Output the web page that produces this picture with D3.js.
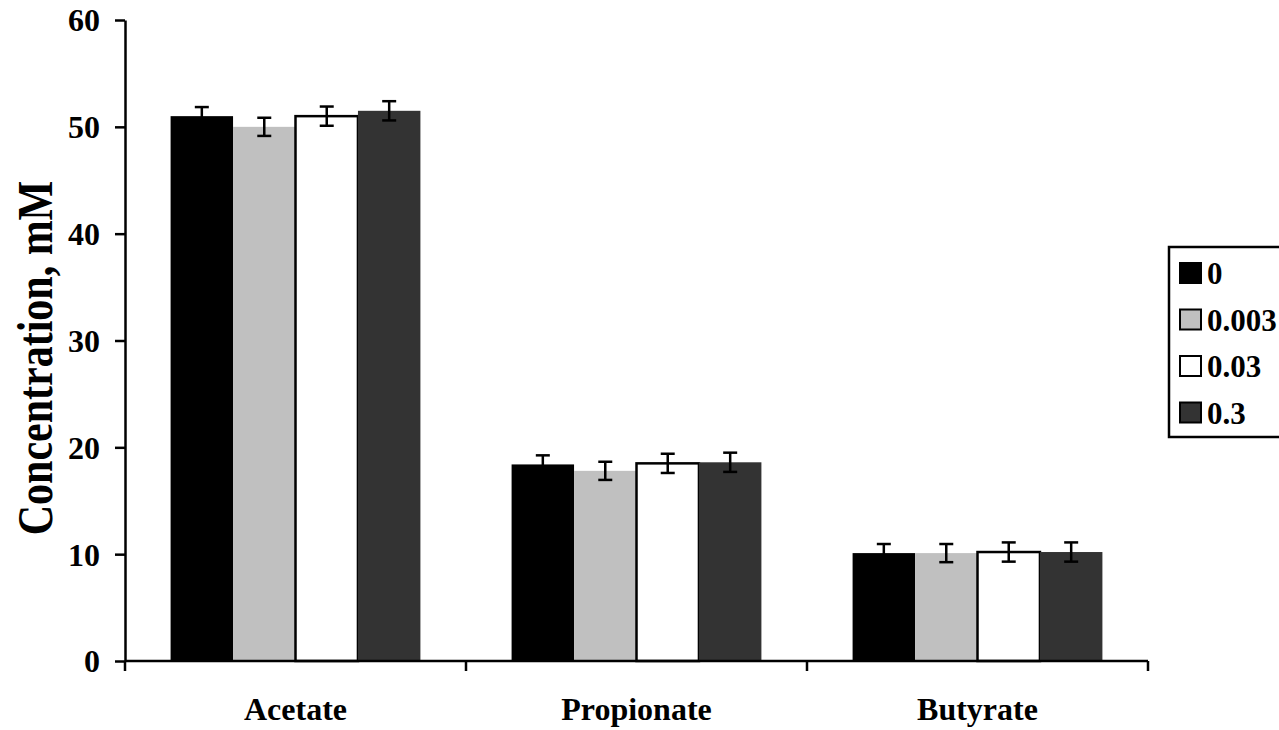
<!DOCTYPE html>
<html><head><meta charset="utf-8">
<script src="https://cdn.jsdelivr.net/npm/d3@7"></script>
<style>body{margin:0;background:#fff}svg{display:block}text{font-family:"Liberation Serif","Times New Roman",serif;font-weight:bold}</style>
</head><body><svg id="c" width="1279" height="730"></svg>
<script>
const categories = ["Acetate","Propionate","Butyrate"];
const seriesNames = ["0","0.003","0.03","0.3"];
const seriesColors = ["#000000","#c0c0c0","#ffffff","#333333"];
const values = [
  [51.0, 18.4, 10.1],
  [50.0, 17.8, 10.1],
  [51.0, 18.5, 10.2],
  [51.5, 18.6, 10.2]
];
const errors = [
  [0.85, 0.85, 0.85],
  [0.85, 0.85, 0.85],
  [0.9, 0.9, 0.9],
  [0.9, 0.9, 0.9]
];
const yTicks = [0,10,20,30,40,50,60];

const svg = d3.select("#c");
const mLeft=125, mRight=1148, mTop=20, mBottom=661;
const x = d3.scaleBand().domain(categories).range([mLeft,mRight]).paddingInner(0).paddingOuter(0);
const y = d3.scaleLinear().domain([0,60]).range([mBottom,mTop]);
const xs = d3.scaleBand().domain(seriesNames).range([0,x.bandwidth()]).paddingOuter(0.73).paddingInner(0);

// bars
seriesNames.forEach((s,i)=>{
  const g = svg.append("g");
  categories.forEach((c,j)=>{
    const v = values[i][j];
    g.append("rect")
      .attr("x", x(c)+xs(s)).attr("width", xs.bandwidth())
      .attr("y", y(v)).attr("height", y(0)-y(v))
      .attr("fill", seriesColors[i])
      .attr("stroke", i===2 ? "#000" : "none").attr("stroke-width", 2.5);
  });
});
// error bars
seriesNames.forEach((s,i)=>{
  categories.forEach((c,j)=>{
    const v = values[i][j], e = errors[i][j];
    const cx = x(c)+xs(s)+xs.bandwidth()/2;
    const g = svg.append("g").attr("stroke","#000").attr("stroke-width",2.5);
    g.append("line").attr("x1",cx).attr("x2",cx).attr("y1",y(v+e)).attr("y2",y(v-e));
    g.append("line").attr("x1",cx-7).attr("x2",cx+7).attr("y1",y(v+e)).attr("y2",y(v+e));
    g.append("line").attr("x1",cx-7).attr("x2",cx+7).attr("y1",y(v-e)).attr("y2",y(v-e));
  });
});

// y axis
const yAxis = d3.axisLeft(y).tickValues(yTicks).tickSize(10).tickSizeOuter(0).tickPadding(15);
const ya = svg.append("g").attr("transform",`translate(${mLeft},0)`).call(yAxis);
ya.select(".domain").attr("stroke","#000").attr("stroke-width",2.5);
ya.selectAll(".tick line").attr("stroke","#000").attr("stroke-width",2.5);
ya.selectAll(".tick text").attr("font-size",32).attr("font-family","Liberation Serif").attr("fill","#000").attr("dy","0.34em");

// x axis
const xa = svg.append("g").attr("transform",`translate(0,${mBottom})`);
xa.append("line").attr("x1",mLeft).attr("x2",mRight).attr("y1",0).attr("y2",0).attr("stroke","#000").attr("stroke-width",2.5);
const bounds = categories.map(c=>x(c)).concat([x(categories[categories.length-1])+x.bandwidth()]);
bounds.forEach(b=>xa.append("line").attr("x1",b).attr("x2",b).attr("y1",0).attr("y2",10).attr("stroke","#000").attr("stroke-width",2.5));
categories.forEach(c=>xa.append("text").attr("x",x(c)+x.bandwidth()/2).attr("y",59).attr("text-anchor","middle").attr("font-size",32).attr("fill","#000").text(c));

// y label
svg.append("text").attr("transform",`translate(52,358) rotate(-90) scale(1,1.2)`).attr("text-anchor","middle").attr("font-size",42).attr("fill","#000").text("Concentration, mM");

// legend
const lg = svg.append("g").attr("transform","translate(1169,247)");
lg.append("rect").attr("x",0).attr("y",0).attr("width",130).attr("height",190).attr("fill","#fff").attr("stroke","#000").attr("stroke-width",2.5);
seriesNames.forEach((s,i)=>{
  const cy = 26 + i*46.5;
  lg.append("rect").attr("x",11).attr("y",cy-10).attr("width",21).attr("height",20).attr("fill",seriesColors[i]).attr("stroke","#000").attr("stroke-width",2);
  lg.append("text").attr("x",38).attr("y",cy+11).attr("font-size",31).attr("fill","#000").text(s);
});
</script></body></html>
